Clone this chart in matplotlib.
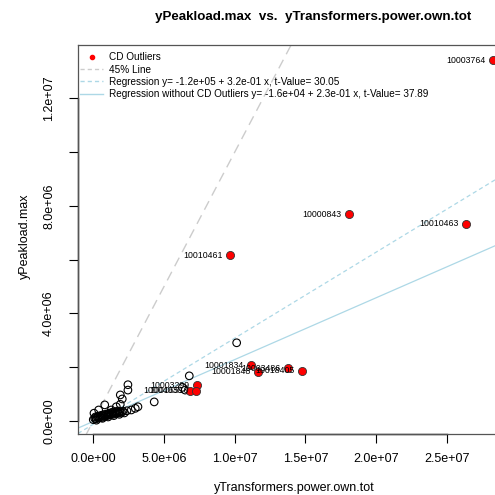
import matplotlib
matplotlib.use("Agg")
import matplotlib.pyplot as plt
import matplotlib.transforms as mtransforms
from matplotlib.lines import Line2D

plt.rcParams["font.family"] = ["Liberation Sans", "DejaVu Sans"]
plt.rcParams["lines.scale_dashes"] = False

# regular points (x = yTransformers.power.own.tot, y = yPeakload.max)
x_pts = [1.014e7, 6.79e6, 6.5e6, 6.3e6, 2.45e6, 2.45e6, 4.31e6, 1.91e6, 2.05e6,
         3.16e6, 2.97e6, 2.69e6, 2.38e6, 1.91e6, 1.63e6, 1.27e6, 8.1e5, 3.8e5, 5e4,
         0.0, 1e5, 2e5, 3e5, 4e5, 5e5, 6e5, 7e5, 8e5, 9e5, 1.0e6, 1.1e6, 1.2e6,
         1.3e6, 1.4e6, 1.5e6, 1.6e6, 1.7e6, 1.8e6, 1.9e6, 2.0e6, 2.1e6, 1.5e5,
         3.5e5, 5.5e5, 7.5e5, 9.5e5, 1.15e6, 1.35e6, 1.55e6, 1.75e6, 2.2e5, 6.5e5,
         1.05e6, 1.45e6, 1.85e6, 2.2e6]
y_pts = [2.91e6, 1.68e6, 1.15e6, 1.25e6, 1.35e6, 1.15e6, 7.1e5, 6.2e5, 8.2e5,
         5.3e5, 4.7e5, 4.1e5, 3.8e5, 9.7e5, 5.3e5, 4.1e5, 6.0e5, 4.1e5, 2.9e5,
         5e4, 1.0e5, 8e4, 1.4e5, 1.1e5, 1.6e5, 1.3e5, 1.9e5, 1.7e5, 2.2e5, 2.0e5,
         2.5e5, 2.3e5, 2.7e5, 2.5e5, 3.0e5, 2.8e5, 3.2e5, 3.0e5, 3.4e5, 3.2e5,
         3.6e5, 1.5e5, 1.8e5, 2.1e5, 2.4e5, 2.6e5, 2.9e5, 3.3e5, 3.5e5, 3.7e5,
         3e4, 1.0e5, 1.5e5, 2.0e5, 2.5e5, 3.0e5]

# CD outliers
out_x = [2.827e7, 1.808e7, 2.638e7, 9.69e6, 1.115e7, 1.375e7, 1.165e7, 1.478e7,
         7.31e6, 6.86e6, 7.28e6]
out_y = [1.343e7, 7.70e6, 7.33e6, 6.17e6, 2.07e6, 1.97e6, 1.83e6, 1.87e6,
         1.33e6, 1.12e6, 1.12e6]
out_lab = ["10003764", "10000843", "10010463", "10010461", "10001834", "10003486",
           "10001848", "10018405", "10003299", "10004030", "10016510"]

# regressions: intercept, slope, t-value
reg_all = (-1.2e5, 3.2e-01, 30.05)
reg_clean = (-1.6e4, 2.3e-01, 37.89)

W, H = 495, 495
fig = plt.figure(figsize=(W / 100, H / 100), dpi=100)
ax = fig.add_axes([78 / W, 61 / H, 431 / W, 389 / H])

xlim = (-1.08e6, 2.94e7)
ylim = (-4.84e5, 1.399e7)
ax.set_xlim(xlim)
ax.set_ylim(ylim)

ax.scatter(x_pts, y_pts, s=30, facecolors="none", edgecolors="black", linewidths=0.8, zorder=3)
ax.scatter(out_x, out_y, s=34, facecolors="red", edgecolors="#333333", linewidths=0.6, zorder=4)
for xx, yy, lab in zip(out_x, out_y, out_lab):
    ax.annotate(lab, (xx, yy), xytext=(-5.5, 0), textcoords="offset points",
                ha="right", va="center", fontsize=6.3, zorder=5)

xs = [xlim[0], xlim[1]]
ax.plot(xs, xs, color="#cccccc", lw=1, dashes=(7, 4.5), zorder=2)
ax.plot(xs, [reg_all[0] + reg_all[1] * v for v in xs], color="lightblue", lw=0.9,
        dashes=(3, 2.2), zorder=2)
ax.plot(xs, [reg_clean[0] + reg_clean[1] * v for v in xs], color="lightblue", lw=0.9, zorder=2)

for s in ax.spines.values():
    s.set_color("#555555")
    s.set_linewidth(0.9)

xt = [0, 5e6, 1e7, 1.5e7, 2e7, 2.5e7]
ax.set_xticks(xt)
ax.set_xticklabels(["0.0e+00", "5.0e+06", "1.0e+07", "1.5e+07", "2.0e+07", "2.5e+07"])
yt = [0, 2e6, 4e6, 6e6, 8e6, 1e7, 1.2e7]
ax.set_yticks(yt)
ax.set_yticklabels(["0.0e+00", "", "4.0e+06", "", "8.0e+06", "", "1.2e+07"],
                   rotation=90, va="center")
ax.tick_params(length=6.5, width=0.8, labelsize=9, pad=7)
ax.tick_params(axis="y", pad=10)

# black axis lines from first to last tick, like base R
tb = mtransforms.blended_transform_factory(ax.transData, ax.transAxes)
ax.plot([xt[0], xt[-1]], [0, 0], transform=tb, color="black", lw=1, clip_on=False)
tl = mtransforms.blended_transform_factory(ax.transAxes, ax.transData)
ax.plot([0, 0], [yt[0], yt[-1]], transform=tl, color="black", lw=1, clip_on=False)

fig.text(294.5 / W, 1 - 488 / H, "yTransformers.power.own.tot", ha="center", va="center", fontsize=9)
fig.text(25 / W, 1 - 236 / H, "yPeakload.max", ha="center", va="center", rotation=90, fontsize=9)
fig.text(313 / W, 1 - 17 / H, "yPeakload.max  vs.  yTransformers.power.own.tot",
         ha="center", va="center", fontsize=9.6, fontweight="bold")

handles = [
    Line2D([], [], ls="none", marker="o", color="red", markersize=3),
    Line2D([], [], color="#cccccc", lw=1, dashes=(3, 2.2)),
    Line2D([], [], color="lightblue", lw=1, dashes=(3, 2.2)),
    Line2D([], [], color="lightblue", lw=1),
]
labels = [
    "CD Outliers",
    "45% Line",
    "Regression y= %.1e + %.1e x, t-Value= %.2f" % reg_all,
    "Regression without CD Outliers y= %.1e + %.1e x, t-Value= %.2f" % reg_clean,
]
ax.legend(handles, labels, loc="upper left", bbox_to_anchor=(-0.012, 1.0), frameon=False,
          fontsize=7.2, handlelength=2.3, handletextpad=0.55, labelspacing=0.22,
          borderaxespad=0.35)

fig.savefig("out.png", dpi=100)
